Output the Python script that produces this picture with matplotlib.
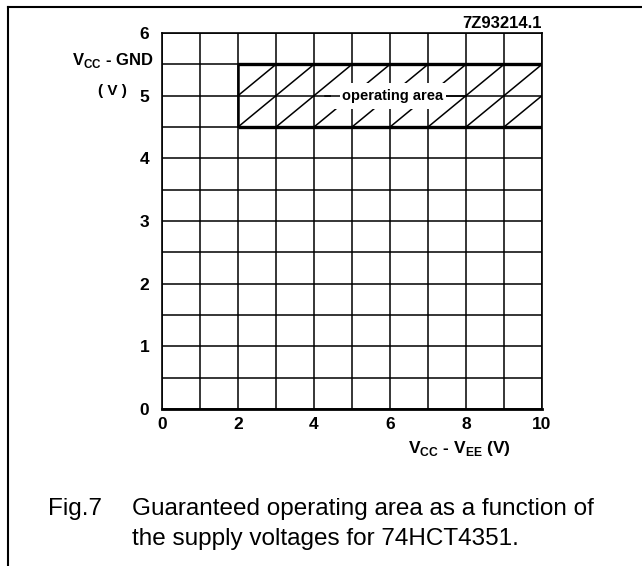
import matplotlib
matplotlib.use("Agg")
from matplotlib import pyplot as plt
from matplotlib.lines import Line2D
from matplotlib.patches import Rectangle

plt.rcParams['font.family'] = ['Liberation Sans', 'DejaVu Sans']
plt.rcParams['mathtext.fontset'] = 'custom'
plt.rcParams['mathtext.rm'] = 'Liberation Sans:bold'
plt.rcParams['mathtext.bf'] = 'Liberation Sans:bold'

# grid and axes data
x_grid = [0, 1, 2, 3, 4, 5, 6, 7, 8, 9, 10]
y_grid = [0, 0.5, 1, 1.5, 2, 2.5, 3, 3.5, 4, 4.5, 5, 5.5, 6]
x_ticks = [0, 2, 4, 6, 8, 10]
y_ticks = [0, 1, 2, 3, 4, 5, 6]

# guaranteed operating area (Vcc-Vee from 2 to 10 V, Vcc-GND from 4.5 to 5.5 V)
area_x = [2, 3, 4, 5, 6, 7, 8, 9, 10]
area_y = [4.5, 5.0, 5.5]

fig = plt.figure(figsize=(6.42, 5.66), dpi=100)
ax = fig.add_axes([162/642, 1-409/566, 380/642, 376/566])
ax.set_xlim(0, 10)
ax.set_ylim(0, 6)

# grid
ax.vlines(x_grid, 0, 6, color="black", lw=1.1, zorder=1)
ax.hlines(y_grid, 0, 10, color="black", lw=1.1, zorder=1)

# operating area: hatch + thick borders
for i in range(len(area_x) - 1):
    for j in range(len(area_y) - 1):
        ax.plot([area_x[i], area_x[i+1]], [area_y[j], area_y[j+1]],
                color="black", lw=1.1, zorder=2)
ax.hlines([area_y[0], area_y[-1]], area_x[0], area_x[-1], color="black", lw=2.4, zorder=3)
ax.vlines([area_x[0]], area_y[0], area_y[-1], color="black", lw=1.8, zorder=3)

# label with leader
ax.add_patch(Rectangle((4.45, 4.78), 3.0, 0.42, facecolor="white", edgecolor="none", zorder=4))
ax.plot([4.3, 8.0], [5.0, 5.0], color="black", lw=1.1, zorder=5)
ax.text(6.08, 5.0, "operating area", ha="center", va="center", fontsize=10.5,
        fontweight="bold", zorder=6,
        bbox=dict(facecolor="white", edgecolor="none", pad=1.5))

for s in ax.spines.values():
    s.set_linewidth(1.2)
ax.spines["bottom"].set_linewidth(2.0)

ax.set_xticks(x_ticks)
ax.set_yticks(y_ticks)
ax.set_xticklabels([str(v) for v in x_ticks], fontsize=12.5, fontweight="bold")
ax.set_yticklabels([str(v) for v in y_ticks], fontsize=12.5, fontweight="bold")
ax.tick_params(axis="x", length=0, pad=6)
ax.tick_params(axis="y", length=0, pad=9)

# axis labels
fig.text(154/642, 1-61/566, r"V$_{\mathrm{CC}}$ - GND", ha="right", va="center",
         fontsize=12, fontweight="bold")
fig.text(112/642, 1-91/566, "( V )", ha="center", va="center",
         fontsize=11, fontweight="bold")
fig.text(459/642, 1-448/566, r"V$_{\mathrm{CC}}$ - V$_{\mathrm{EE}}$ (V)", ha="center",
         va="center", fontsize=12.5, fontweight="bold")
fig.text(542/642, 1-24/566, "7Z93214.1", ha="right", va="center",
         fontsize=12, fontweight="bold")

# caption
fig.text(48/642, 1-515/566, "Fig.7", ha="left", va="baseline", fontsize=17.5)
fig.text(132/642, 1-515/566, "Guaranteed operating area as a function of",
         ha="left", va="baseline", fontsize=17.5)
fig.text(132/642, 1-545/566, "the supply voltages for 74HCT4351.",
         ha="left", va="baseline", fontsize=17.5)

# frame
fig.add_artist(Line2D([8/642, 8/642], [0, 1-7/566], color="black", lw=1.5))
fig.add_artist(Line2D([8/642, 1], [1-7/566, 1-7/566], color="black", lw=1.5))

fig.savefig("out.png", dpi=100)
